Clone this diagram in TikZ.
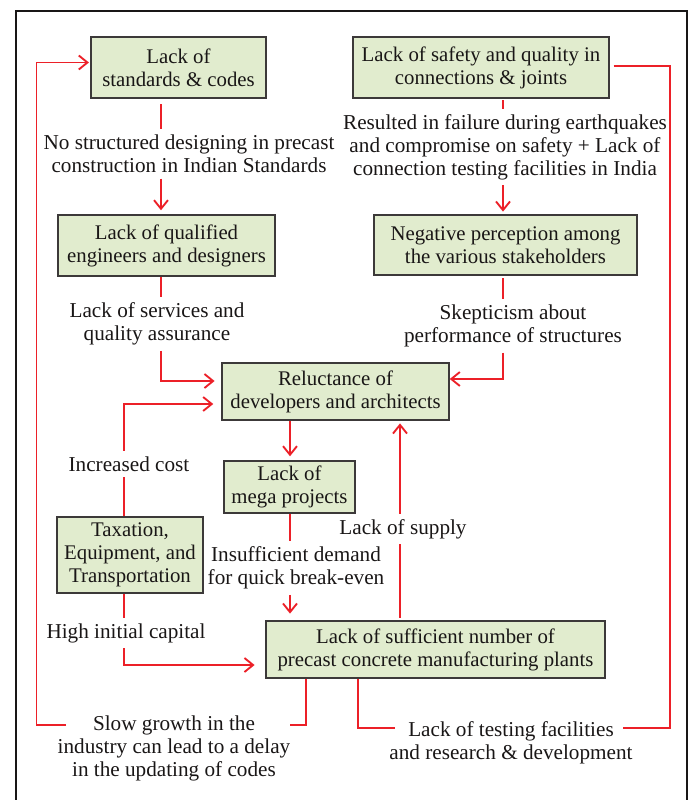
\documentclass[tikz,border=0pt]{standalone}
\usepackage{fontspec}
\setmainfont{Liberation Serif}
\usetikzlibrary{arrows.meta,calc}
\definecolor{linered}{RGB}{236,32,40}
\definecolor{boxgreen}{RGB}{225,236,206}
\definecolor{ink}{RGB}{25,22,22}
\begin{document}
\begin{tikzpicture}[x=0.75pt,y=-0.75pt,
  every node/.style={text=ink},
  box/.style={draw=ink!85, line width=1.1pt, fill=boxgreen, align=center, inner sep=0pt,
    font=\fontsize{15.6}{17.25}\selectfont},
  lbl/.style={align=center, inner sep=4pt, font=\fontsize{15.9}{17.25}\selectfont},
  conn/.style={draw=linered, line width=1pt},
  arr/.style={conn, -{Straight Barb[length=6.5pt,width=10.5pt,line width=1.4pt]}}]
\useasboundingbox (0,0) rectangle (692,800);
\draw[line width=1pt, ink] (16,800) -- (16,11) -- (687,11) -- (687,800);

% boxes
\node[box, minimum width=131.25pt, minimum height=45.75pt] (b1) at (178.5,67.5) {Lack of\\standards \& codes};
\node[box, minimum width=192pt, minimum height=45.75pt] (b2) at (481,67.5) {Lack of safety and quality in\\connections \& joints};
\node[box, minimum width=162.75pt, minimum height=45.75pt] (b3) at (166.5,245.5) {Lack of qualified\\engineers and designers};
\node[box, minimum width=197.25pt, minimum height=45pt] (b4) at (505.5,245) {Negative perception among\\the various stakeholders};
\node[box, minimum width=170.25pt, minimum height=42.75pt] (b5) at (335.5,391.5) {Reluctance of\\developers and architects};
\node[box, minimum width=98.25pt, minimum height=39pt] (b6) at (289.5,487) {Lack of\\mega projects};
\node[box, minimum width=109.5pt, minimum height=57pt] (b7) at (130,555) {Taxation,\\Equipment, and\\Transportation};
\node[box, minimum width=254.25pt, minimum height=42.75pt] (b8) at (435.5,649.5) {Lack of sufficient number of\\precast concrete manufacturing plants};

% labels
\node[lbl] (L1) at (189,154) {No structured designing in precast\\construction in Indian Standards};
\node[lbl] (L2) at (157,324) {Lack of services and\\quality assurance};
\node[lbl] (L3) at (129,464) {Increased cost};
\node[lbl] (L4) at (126,633) {High initial capital};
\node[lbl] (L5) at (296,568) {Insufficient demand\\for quick break-even};
\node[lbl] (L6) at (403,529) {Lack of supply};
\node[lbl] (L7) at (505,147) {Resulted in failure during earthquakes\\and compromise on safety + Lack of\\connection testing facilities in India};
\node[lbl] (L8) at (513,326) {Skepticism about\\performance of structures};
\node[lbl] (L9) at (511,743) {Lack of testing facilities\\and research \& development};
\node[lbl] (L10) at (174,748) {Slow growth in the\\industry can lead to a delay\\in the updating of codes};

% x positions of vertical connectors
\coordinate (xA) at (161,0);
\coordinate (xB) at (290,0);
\coordinate (xC) at (124,0);
\coordinate (xD) at (400,0);
\coordinate (xE) at (503,0);
\coordinate (xG) at (358,0);
\coordinate (xH) at (306,0);

% connectors
\draw[conn, shorten <=4pt] (b1.south -| xA) -- (L1.north -| xA);
\draw[arr, shorten >=3pt] (L1.south -| xA) -- (b3.north -| xA);
\draw[conn] (b3.south -| xA) -- (L2.north -| xA);
\draw[arr, shorten >=5pt] (L2.south -| xA) |- ($(b5.west)+(0,-10.5)$);

\draw[conn] (b7.north -| xC) -- (L3.south -| xC);
\draw[arr, shorten >=6pt] (L3.north -| xC) |- ($(b5.west)+(0,12.5)$);
\draw[conn] (b7.south -| xC) -- (L4.north -| xC);
\draw[arr, shorten >=8pt] (L4.south -| xC) |- ($(b8.west)+(0,15.5)$);

\draw[arr, shorten >=3pt] (b5.south -| xB) -- (b6.north -| xB);
\draw[conn] (b6.south -| xB) -- (L5.north -| xB);
\draw[arr, shorten >=5pt] (L5.south -| xB) -- (b8.north -| xB);

\draw[conn, shorten <=2pt] (b8.north -| xD) -- (L6.south -| xD);
\draw[arr, shorten >=2pt] (L6.north -| xD) -- (b5.south -| xD);

\draw[conn, shorten <=1pt] (b2.south -| xE) -- (L7.north -| xE);
\draw[arr, shorten >=2pt] (L7.south -| xE) -- (b4.north -| xE);
\draw[conn, shorten <=2pt] (b4.south -| xE) -- (L8.north -| xE);
\draw[arr] (L8.south -| xE) |- ($(b5.east)+(0,-12.5)$);

\draw[conn] ($(b2.east)+(4,-1.5)$) -| ($(L9.center)+(159,-15)$) -- ($(L9.center)+(112,-15)$);
\draw[conn] (b8.south -| xG) |- ($(L9.center)+(-116,-15)$);

\draw[conn] (b8.south -| xH) |- ($(L10.center)+(116,-23)$);
\draw[arr, shorten >=1pt] ($(L10.center)+(-108,-23)$) -| ($(b1.west)+(-54,-5)$) -- ($(b1.west)+(0,-5)$);
\end{tikzpicture}
\end{document}
